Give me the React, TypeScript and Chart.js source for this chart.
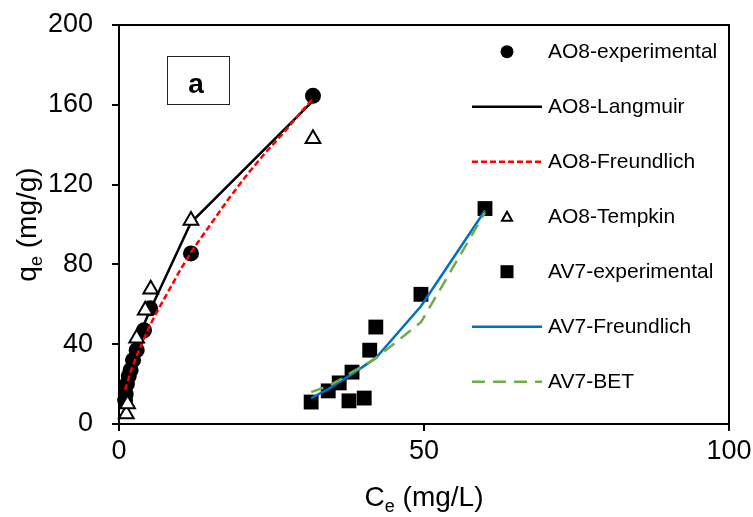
import React, { useEffect, useRef } from 'react';
import { Chart, registerables } from 'chart.js';

Chart.register(...registerables);

// ---- Data ----
const xTicks = [0, 50, 100];
const yTicks = [0, 40, 80, 120, 160, 200];

const ao8ExpC = [1.0, 1.1, 1.3, 1.6, 1.9, 2.3, 2.9, 4.1, 5.1, 11.8, 31.8];
const ao8ExpQ = [12, 15, 20, 24, 27, 32, 37, 47, 58, 85.5, 164.5];

const ao8LangmuirC = [1.0, 1.1, 1.3, 1.6, 1.9, 2.3, 2.9, 4.1, 5.1, 11.8, 31.8];
const ao8LangmuirQ = [16, 17.5, 20.5, 25, 29, 34, 41, 50, 57, 101, 162];

const ao8FreundC = [1, 2, 3, 4, 5, 6, 8, 10, 12, 15, 18, 21, 24, 27, 30, 31.8];
const ao8FreundQ = [17, 27, 35, 42, 49, 55, 66, 77, 87, 100, 113, 125, 136, 146, 157, 163];

const ao8TempkinC = [1.2, 1.4, 2.9, 4.3, 5.2, 11.8, 31.8];
const ao8TempkinQ = [5, 10, 43, 57, 67.5, 102, 143];

const av7ExpC = [31.5, 34.3, 36.1, 37.7, 38.2, 40.2, 41.1, 42.1, 49.5, 60];
const av7ExpQ = [11, 16.6, 20.6, 11.6, 26, 13, 37, 48.6, 65, 108];

const av7FreundC = [31.5, 34.3, 36.1, 38.2, 41.1, 42.1, 49.5, 60];
const av7FreundQ = [13, 17.5, 21, 25, 31, 33, 59, 107];

const av7BetC = [31.5, 34.3, 36.1, 38.2, 41.1, 42.1, 49.5, 60];
const av7BetQ = [16, 19, 22, 26, 31, 33, 51, 106];

const seriesLabels = [
  'AO8-experimental',
  'AO8-Langmuir',
  'AO8-Freundlich',
  'AO8-Tempkin',
  'AV7-experimental',
  'AV7-Freundlich',
  'AV7-BET',
];

const FONT = "'Liberation Sans', Arial, sans-serif";
const TICK_SIZE = 27;
const TITLE_SIZE = 28;
const SUB_SIZE = 18;
const LEGEND_SIZE = 21;

const pts = (xs: number[], ys: number[]) => xs.map((x, i) => ({ x, y: ys[i] }));

const customPlugin = {
  id: 'custom',
  afterDraw(chart: any) {
    const ctx = chart.ctx as CanvasRenderingContext2D;
    const { left, right, top, bottom } = chart.chartArea;
    ctx.save();
    // frame top & right
    ctx.strokeStyle = '#000';
    ctx.lineWidth = 2;
    ctx.beginPath();
    ctx.moveTo(left - 1, top);
    ctx.lineTo(right, top);
    ctx.lineTo(right, bottom + 1);
    ctx.stroke();

    // "a" box
    ctx.lineWidth = 1;
    ctx.strokeStyle = '#222';
    ctx.strokeRect(167.5, 56.5, 62, 48);
    ctx.fillStyle = '#000';
    ctx.font = `bold 28px ${FONT}`;
    ctx.textAlign = 'center';
    ctx.textBaseline = 'alphabetic';
    ctx.fillText('a', 196, 93);

    // axis titles
    const drawSub = (main: string, sub: string, rest: string) => {
      ctx.font = `${TITLE_SIZE}px ${FONT}`;
      const w1 = ctx.measureText(main).width;
      const w3 = ctx.measureText(rest).width;
      ctx.font = `${SUB_SIZE}px ${FONT}`;
      const w2 = ctx.measureText(sub).width;
      const total = w1 + w2 + w3;
      let x = -total / 2;
      ctx.textAlign = 'left';
      ctx.textBaseline = 'alphabetic';
      ctx.font = `${TITLE_SIZE}px ${FONT}`;
      ctx.fillText(main, x, 7);
      x += w1;
      ctx.font = `${SUB_SIZE}px ${FONT}`;
      ctx.fillText(sub, x, 13);
      x += w2;
      ctx.font = `${TITLE_SIZE}px ${FONT}`;
      ctx.fillText(rest, x, 7);
    };
    ctx.save();
    ctx.translate((left + right) / 2, 499);
    drawSub('C', 'e', ' (mg/L)');
    ctx.restore();
    ctx.save();
    ctx.translate(29, (top + bottom) / 2);
    ctx.rotate(-Math.PI / 2);
    drawSub('q', 'e', ' (mg/g)');
    ctx.restore();

    // legend
    const datasets = chart.data.datasets;
    const mx = 507;
    const tx = 548;
    const y0 = 51.7;
    const dy = 55;
    datasets.forEach((ds: any, i: number) => {
      const y = y0 + i * dy;
      ctx.save();
      if (ds.showLine) {
        ctx.strokeStyle = ds.borderColor;
        ctx.lineWidth = ds.borderWidth;
        ctx.setLineDash(ds.borderDash || []);
        ctx.beginPath();
        ctx.moveTo(472, y);
        ctx.lineTo(542, y);
        ctx.stroke();
      } else if (ds.pointStyle === 'circle') {
        ctx.fillStyle = '#000';
        ctx.beginPath();
        ctx.arc(mx, y, 6.5, 0, Math.PI * 2);
        ctx.fill();
      } else if (ds.pointStyle === 'rect') {
        ctx.fillStyle = '#000';
        ctx.fillRect(mx - 6.5, y - 6.5, 13, 13);
      } else if (ds.pointStyle === 'triangle') {
        ctx.fillStyle = '#fff';
        ctx.strokeStyle = '#000';
        ctx.lineWidth = 2;
        ctx.beginPath();
        ctx.moveTo(mx, y - 5);
        ctx.lineTo(mx + 5, y + 4);
        ctx.lineTo(mx - 5, y + 4);
        ctx.closePath();
        ctx.fill();
        ctx.stroke();
      }
      ctx.restore();
      ctx.fillStyle = '#000';
      ctx.font = `${LEGEND_SIZE}px ${FONT}`;
      ctx.textAlign = 'left';
      ctx.textBaseline = 'middle';
      ctx.fillText(ds.label, tx, y + 1);
    });
    ctx.restore();
  },
};

export default function App() {
  const ref = useRef<HTMLCanvasElement | null>(null);
  useEffect(() => {
    if (!ref.current) return;
    const n = 7;
    const chart = new Chart(ref.current, {
      type: 'scatter',
      data: {
        datasets: [
          {
            label: seriesLabels[0],
            data: pts(ao8ExpC, ao8ExpQ),
            pointStyle: 'circle',
            pointRadius: 8,
            backgroundColor: '#000',
            borderColor: '#000',
            borderWidth: 0,
            showLine: false,
            clip: false,
            order: n - 1 - 0,
          },
          {
            label: seriesLabels[1],
            data: pts(ao8LangmuirC, ao8LangmuirQ),
            showLine: true,
            pointRadius: 0,
            borderColor: '#000',
            backgroundColor: '#000',
            borderWidth: 2.5,
            order: n - 1 - 1,
          },
          {
            label: seriesLabels[2],
            data: pts(ao8FreundC, ao8FreundQ),
            showLine: true,
            pointRadius: 0,
            borderColor: '#FF0000',
            backgroundColor: '#FF0000',
            borderWidth: 2.5,
            borderDash: [6, 3],
            order: n - 1 - 2,
          },
          {
            label: seriesLabels[3],
            data: pts(ao8TempkinC, ao8TempkinQ),
            pointStyle: 'triangle',
            pointRadius: 8.5,
            backgroundColor: '#fff',
            borderColor: '#000',
            borderWidth: 2,
            showLine: false,
            clip: false,
            order: n - 1 - 3,
          },
          {
            label: seriesLabels[4],
            data: pts(av7ExpC, av7ExpQ),
            pointStyle: 'rect',
            pointRadius: 10.5,
            backgroundColor: '#000',
            borderColor: '#000',
            borderWidth: 0,
            showLine: false,
            clip: false,
            order: n - 1 - 4,
          },
          {
            label: seriesLabels[5],
            data: pts(av7FreundC, av7FreundQ),
            showLine: true,
            pointRadius: 0,
            borderColor: '#0070C0',
            backgroundColor: '#0070C0',
            borderWidth: 2.5,
            order: n - 1 - 5,
          },
          {
            label: seriesLabels[6],
            data: pts(av7BetC, av7BetQ),
            showLine: true,
            pointRadius: 0,
            borderColor: '#70AD47',
            backgroundColor: '#70AD47',
            borderWidth: 2.5,
            borderDash: [13, 8],
            order: n - 1 - 6,
          },
        ] as any,
      },
      options: {
        animation: false,
        responsive: false,
        events: [],
        layout: { padding: { top: 25, right: 24, left: 0, bottom: 0 } },
        plugins: {
          legend: { display: false },
          tooltip: { enabled: false },
          title: { display: false },
        },
        scales: {
          x: {
            type: 'linear',
            min: 0,
            max: 100,
            afterFit: (s: any) => {
              s.height = 93;
              s.paddingLeft = 0;
              s.paddingRight = 0;
            },
            afterBuildTicks: (s: any) => {
              s.ticks = xTicks.map((v) => ({ value: v }));
            },
            ticks: {
              color: '#000',
              font: { family: FONT, size: TICK_SIZE },
              padding: 4,
              maxRotation: 0,
            },
            grid: {
              drawOnChartArea: false,
              drawTicks: true,
              tickLength: 7,
              color: '#000',
              lineWidth: 2,
            },
            border: { display: true, color: '#000', width: 2 },
          },
          y: {
            type: 'linear',
            min: 0,
            max: 200,
            afterFit: (s: any) => {
              s.width = 119;
              s.paddingTop = 0;
              s.paddingBottom = 0;
            },
            afterBuildTicks: (s: any) => {
              s.ticks = yTicks.map((v) => ({ value: v }));
            },
            ticks: {
              color: '#000',
              font: { family: FONT, size: TICK_SIZE },
              padding: 19,
            },
            grid: {
              drawOnChartArea: false,
              drawTicks: true,
              tickLength: 7,
              color: '#000',
              lineWidth: 2,
            },
            border: { display: true, color: '#000', width: 2 },
          },
        },
      } as any,
      plugins: [customPlugin],
    });
    return () => chart.destroy();
  }, []);

  return (
    <div style={{ position: 'absolute', left: 0, top: 0, width: 753, height: 517, background: '#fff' }}>
      <canvas ref={ref} width={753} height={517} style={{ display: 'block' }} />
    </div>
  );
}
